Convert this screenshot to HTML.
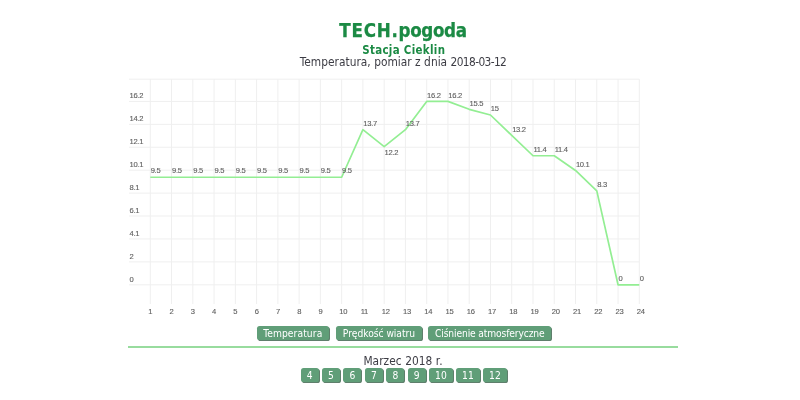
<!DOCTYPE html>
<html lang="pl"><head><meta charset="utf-8"><title>TECH.pogoda</title>
<style>
html,body{margin:0;padding:0;background:#fff;}
body{width:800px;height:400px;position:relative;overflow:hidden;font-family:"Liberation Sans",sans-serif;}
.abs{position:absolute;white-space:nowrap;}
h1{position:absolute;margin:0;left:0;width:806px;top:19.8px;text-align:center;font-family:"DejaVu Sans Condensed","Liberation Sans","DejaVu Sans",sans-serif;font-size:18.6px;line-height:22px;font-weight:bold;color:#1b8a44;letter-spacing:0;-webkit-text-stroke:0.25px #1b8a44;}
.t1{letter-spacing:0.75px;}
.t2{letter-spacing:-0.35px;}
h2{position:absolute;margin:0;left:0.8px;width:806px;top:43px;text-align:center;font-family:"DejaVu Sans Condensed","Liberation Sans","DejaVu Sans",sans-serif;font-size:11.4px;line-height:14px;font-weight:bold;color:#1b8a44;letter-spacing:0.34px;}
.sub{position:absolute;left:0;width:806px;top:54.7px;text-align:center;font-family:"DejaVu Sans Condensed","Liberation Sans","DejaVu Sans",sans-serif;font-size:11.8px;line-height:14px;color:#3c3c44;letter-spacing:-0.16px;}
.s1{letter-spacing:0.03px;}
.s2{letter-spacing:-0.6px;}
.chart{position:absolute;left:0;top:0;}
.chart text{font-family:"Liberation Sans",sans-serif;font-size:7.6px;fill:#606060;stroke:#606060;stroke-width:0.12px;letter-spacing:-0.3px;}
.xl text{text-anchor:middle;}
.btn{position:absolute;box-sizing:border-box;height:13.8px;background:#609e78;border-radius:2.6px;color:#fff;font-family:"DejaVu Sans Condensed","Liberation Sans","DejaVu Sans",sans-serif;font-size:10.2px;line-height:15.6px;text-align:center;box-shadow:1px 1px 0 #5f7f6c;}
.hr{position:absolute;left:128px;width:550px;top:346.2px;height:1.6px;background:#98dc9e;}
.month{position:absolute;left:0;width:806px;top:353.6px;text-align:center;font-family:"DejaVu Sans Condensed","Liberation Sans","DejaVu Sans",sans-serif;font-size:11.8px;line-height:14px;color:#3c3c44;letter-spacing:0.06px;}
</style></head><body>
<h1><span class="t1">TECH.</span><span class="t2">pogoda</span></h1>
<h2>Stacja Cieklin</h2>
<div class="sub"><span class="s1">Temperatura, pomiar z dnia </span><span class="s2">2018-03-12</span></div>
<svg class="chart" width="800" height="400" viewBox="0 0 800 400">
<path d="M129 101.40H639.30 M129 124.33H639.30 M129 147.25H639.30 M129 170.18H639.30 M129 193.10H639.30 M129 216.03H639.30 M129 238.95H639.30 M129 261.88H639.30 M129 284.80H639.30 M129 79.2H639.30 M150.30 79.2V304 M171.56 79.2V304 M192.82 79.2V304 M214.08 79.2V304 M235.34 79.2V304 M256.60 79.2V304 M277.87 79.2V304 M299.13 79.2V304 M320.39 79.2V304 M341.65 79.2V304 M362.91 79.2V304 M384.17 79.2V304 M405.43 79.2V304 M426.69 79.2V304 M447.95 79.2V304 M469.21 79.2V304 M490.47 79.2V304 M511.73 79.2V304 M533.00 79.2V304 M554.26 79.2V304 M575.52 79.2V304 M596.78 79.2V304 M618.04 79.2V304 M639.30 79.2V304" stroke="#efefef" stroke-width="1" fill="none"/>
<polyline points="150.30,177.25 171.56,177.25 192.82,177.25 214.08,177.25 235.34,177.25 256.60,177.25 277.87,177.25 299.13,177.25 320.39,177.25 341.65,177.25 362.91,129.70 384.17,146.68 405.43,129.70 426.69,101.40 447.95,101.40 469.21,109.32 490.47,114.99 511.73,135.36 533.00,155.74 554.26,155.74 575.52,170.46 596.78,190.84 618.04,284.80 639.30,284.80" fill="none" stroke="#93ee93" stroke-width="1.7" stroke-linejoin="round"/>
<g class="yl">
<text x="129.5" y="98.40">16.2</text>
<text x="129.5" y="121.33">14.2</text>
<text x="129.5" y="144.25">12.1</text>
<text x="129.5" y="167.18">10.1</text>
<text x="129.5" y="190.10">8.1</text>
<text x="129.5" y="213.03">6.1</text>
<text x="129.5" y="235.95">4.1</text>
<text x="129.5" y="258.88">2</text>
<text x="129.5" y="281.80">0</text>
</g><g class="xl">
<text x="150.30" y="314">1</text>
<text x="171.56" y="314">2</text>
<text x="192.82" y="314">3</text>
<text x="214.08" y="314">4</text>
<text x="235.34" y="314">5</text>
<text x="256.60" y="314">6</text>
<text x="277.87" y="314">7</text>
<text x="299.13" y="314">8</text>
<text x="320.39" y="314">9</text>
<text x="343.15" y="314">10</text>
<text x="364.41" y="314">11</text>
<text x="385.67" y="314">12</text>
<text x="406.93" y="314">13</text>
<text x="428.19" y="314">14</text>
<text x="449.45" y="314">15</text>
<text x="470.71" y="314">16</text>
<text x="491.97" y="314">17</text>
<text x="513.23" y="314">18</text>
<text x="534.50" y="314">19</text>
<text x="555.76" y="314">20</text>
<text x="577.02" y="314">21</text>
<text x="598.28" y="314">22</text>
<text x="619.54" y="314">23</text>
<text x="640.80" y="314">24</text>
</g><g class="dl">
<text x="150.70" y="173.45">9.5</text>
<text x="171.96" y="173.45">9.5</text>
<text x="193.22" y="173.45">9.5</text>
<text x="214.48" y="173.45">9.5</text>
<text x="235.74" y="173.45">9.5</text>
<text x="257.00" y="173.45">9.5</text>
<text x="278.27" y="173.45">9.5</text>
<text x="299.53" y="173.45">9.5</text>
<text x="320.79" y="173.45">9.5</text>
<text x="342.05" y="173.45">9.5</text>
<text x="363.31" y="125.90">13.7</text>
<text x="384.57" y="154.68">12.2</text>
<text x="405.83" y="125.90">13.7</text>
<text x="427.09" y="97.60">16.2</text>
<text x="448.35" y="97.60">16.2</text>
<text x="469.61" y="105.52">15.5</text>
<text x="490.87" y="111.19">15</text>
<text x="512.13" y="131.56">13.2</text>
<text x="533.40" y="151.94">11.4</text>
<text x="554.66" y="151.94">11.4</text>
<text x="575.92" y="166.66">10.1</text>
<text x="597.18" y="187.04">8.3</text>
<text x="618.44" y="281.00">0</text>
<text x="639.70" y="281.00">0</text>
</g></svg>
<div class="btn" style="left:256.5px;top:326.2px;width:72.6px;letter-spacing:0.1px;">Temperatura</div>
<div class="btn" style="left:336.2px;top:326.2px;width:85.5px;letter-spacing:-0.03px;">Prędkość wiatru</div>
<div class="btn" style="left:428.3px;top:326.2px;width:123px;letter-spacing:-0.13px;">Ciśnienie atmosferyczne</div>
<div class="hr"></div>
<div class="month">Marzec 2018 r.</div>
<div class="btn" style="left:300.6px;top:368.3px;width:18px;">4</div>
<div class="btn" style="left:322.0px;top:368.3px;width:18px;">5</div>
<div class="btn" style="left:343.4px;top:368.3px;width:18px;">6</div>
<div class="btn" style="left:364.9px;top:368.3px;width:18px;">7</div>
<div class="btn" style="left:386.3px;top:368.3px;width:18px;">8</div>
<div class="btn" style="left:407.7px;top:368.3px;width:18px;">9</div>
<div class="btn" style="left:429.1px;top:368.3px;width:23.7px;">10</div>
<div class="btn" style="left:456.1px;top:368.3px;width:23.7px;">11</div>
<div class="btn" style="left:483.1px;top:368.3px;width:23.7px;">12</div>
</body></html>
